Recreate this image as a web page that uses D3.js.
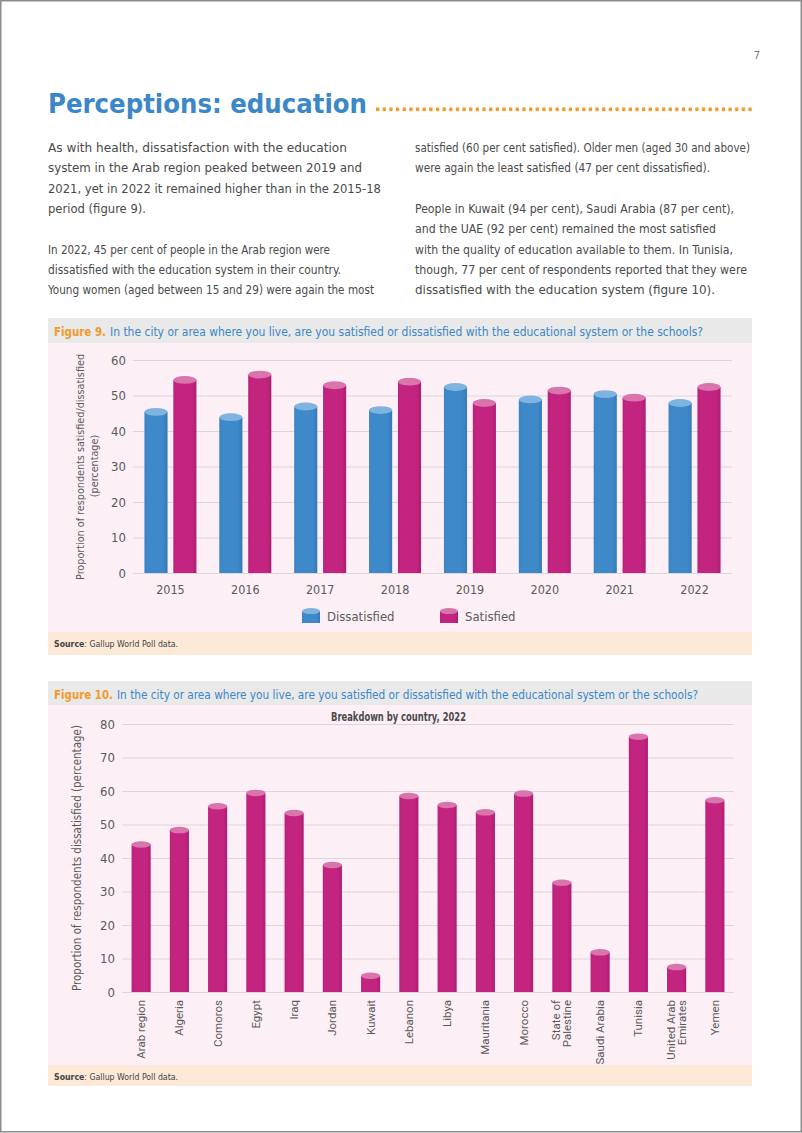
<!DOCTYPE html>
<html><head><meta charset="utf-8">
<script src="https://cdn.jsdelivr.net/npm/d3@7"></script>
<style>
html,body{margin:0;padding:0;background:#fff;}
svg{display:block;}
.nar{font-family:"Liberation Sans Narrow","DejaVu Sans Condensed","Roboto Condensed",Roboto,sans-serif;}
</style></head>
<body>
<svg id="page" width="802" height="1133"></svg>
<script>
// ---------- DATA ----------
const years = ["2015","2016","2017","2018","2019","2020","2021","2022"];
const seriesNames = ["Dissatisfied","Satisfied"];
const dissatisfied = [46.5, 45, 48, 47, 53.5, 50, 51.5, 49];
const satisfied = [55.5, 57, 54, 55, 49, 52.5, 50.5, 53.5];
const yTicks9 = [0,10,20,30,40,50,60];

const countries = ["Arab region","Algeria","Comoros","Egypt","Iraq","Jordan","Kuwait","Lebanon","Libya","Mauritania","Morocco","State of Palestine","Saudi Arabia","Tunisia","United Arab Emirates","Yemen"];
const countryDissatisfied = [45, 49.3, 56.4, 60.4, 54.4, 38.9, 5.8, 59.5, 56.8, 54.6, 60.2, 33.6, 12.8, 77.2, 8.4, 58.2];
const yTicks10 = [0,10,20,30,40,50,60,70,80];

// ---------- TEXT (line, width) ----------
const paragraphs = [
 {x:48, row:0, lines:[
  ["As with health, dissatisfaction with the education", 299],
  ["system in the Arab region peaked between 2019 and", 314],
  ["2021, yet in 2022 it remained higher than in the 2015-18", 333],
  ["period (figure 9).", 98]]},
 {x:48, row:5, lines:[
  ["In 2022, 45 per cent of people in the Arab region were", 282],
  ["dissatisfied with the education system in their country.", 293],
  ["Young women (aged between 15 and 29) were again the most", 326]]},
 {x:415, row:0, lines:[
  ["satisfied (60 per cent satisfied). Older men (aged 30 and above)", 335],
  ["were again the least satisfied (47 per cent dissatisfied).", 295]]},
 {x:415, row:3, lines:[
  ["People in Kuwait (94 per cent), Saudi Arabia (87 per cent),", 319],
  ["and the UAE (92 per cent) remained the most satisfied", 301],
  ["with the quality of education available to them. In Tunisia,", 318],
  ["though, 77 per cent of respondents reported that they were", 332],
  ["dissatisfied with the education system (figure 10).", 300]]}
];

const svg = d3.select("#page");
const BLUE_T = "#3b87c7", ORANGE = "#f39a2c", TXT = "#4a4a4a", AX = "#5a5a5a";

// fit a group of text elements: one common font size so that none is naturally wider than its target, then pin lengths
function fitGroup(items, base){
  let ratio = 1;
  items.forEach(([sel,t])=>{
    sel.attr("font-size", base);
    const w = sel.node().getComputedTextLength();
    ratio = Math.min(ratio, t/w);
  });
  items.forEach(([sel,t])=>{
    sel.attr("font-size", base*ratio).attr("textLength", t).attr("lengthAdjust","spacingAndGlyphs");
  });
}
const fit = (sel, t, base) => fitGroup([[sel,t]], base);

// page border
svg.append("rect").attr("x",0.75).attr("y",0.75).attr("width",800.5).attr("height",1131)
  .attr("fill","none").attr("stroke","#8c8c8c").attr("stroke-width",1.5);

// page number
svg.append("text").attr("class","nar").attr("x",757).attr("y",59).attr("font-size",11)
  .attr("fill","#777").attr("text-anchor","middle").text("7");

// title
fit(svg.append("text").attr("class","nar").attr("x",48).attr("y",113)
  .attr("font-weight","bold").attr("fill",BLUE_T).text("Perceptions: education"), 319, 35);
svg.append("g").selectAll("rect").data(d3.range(376, 751, 6.65)).join("rect")
  .attr("x",d=>d).attr("y",107.5).attr("width",3.3).attr("height",3.6).attr("fill",ORANGE);

// body text
paragraphs.forEach(p=>{
  const y0 = 152, lh = 20.3;
  const items = p.lines.map((l,i)=>[
    svg.append("text").attr("class","nar").attr("x",p.x).attr("y",y0+(p.row+i)*lh).attr("fill",TXT).text(l[0]), l[1]]);
  fitGroup(items, 14.6);
});

// defs: gradients for cylinders
const defs = svg.append("defs");
function cylGrad(id, c1, c2, c3){
  const g = defs.append("linearGradient").attr("id",id).attr("x1","0%").attr("x2","100%");
  g.append("stop").attr("offset","0%").attr("stop-color",c1);
  g.append("stop").attr("offset","12%").attr("stop-color",c2);
  g.append("stop").attr("offset","80%").attr("stop-color",c2);
  g.append("stop").attr("offset","100%").attr("stop-color",c3);
}
cylGrad("gBlue","#3a82c2","#3e89ca","#3479b6");
cylGrad("gPink","#b9217a","#c2247f","#ad1e72");
const colors = {Dissatisfied:{body:"url(#gBlue)", top:"#7fb4e0"}, Satisfied:{body:"url(#gPink)", top:"#da74ad"}};

function cylinder(g, x, w, yTop, yBase, col){
  const ry = w*0.17;
  g.append("rect").attr("x",x).attr("y",yTop+ry).attr("width",w).attr("height",Math.max(0,yBase-yTop-ry)).attr("fill",col.body);
  g.append("ellipse").attr("cx",x+w/2).attr("cy",yTop+ry).attr("rx",w/2).attr("ry",ry).attr("fill",col.top);
}

function panel(yHead, yChart, ySrc, yEnd, figNum, figEnd, qStart, qEnd){
  svg.append("rect").attr("x",48).attr("y",yHead).attr("width",704).attr("height",yChart-yHead).attr("fill","#e9e9e9");
  svg.append("rect").attr("x",48).attr("y",yChart).attr("width",704).attr("height",ySrc-yChart).attr("fill","#fcf0f6");
  svg.append("rect").attr("x",48).attr("y",ySrc).attr("width",704).attr("height",yEnd-ySrc).attr("fill","#fde9d7");
  fitGroup([
    [svg.append("text").attr("class","nar").attr("x",54).attr("y",yHead+17.5)
      .attr("fill",ORANGE).attr("font-weight","bold").text("Figure "+figNum+"."), figEnd-54],
    [svg.append("text").attr("class","nar").attr("x",qStart).attr("y",yHead+17.5)
      .attr("fill",BLUE_T).text("In the city or area where you live, are you satisfied or dissatisfied with the educational system or the schools?"), qEnd-qStart]
  ], 14);
  const s = svg.append("text").attr("class","nar").attr("x",54).attr("y",ySrc+15).attr("fill","#444");
  s.append("tspan").attr("font-weight","bold").text("Source");
  s.append("tspan").text(": Gallup World Poll data.");
  fit(s, 124, 10.5);
}

// ---------- FIGURE 9 ----------
panel(318, 343, 632, 655, 9, 106, 110, 703);
{
  const g = svg.append("g");
  const x0 = d3.scaleBand().domain(years).range([133, 732]);
  const x1 = d3.scaleBand().domain(seriesNames).range([x0.bandwidth()/2-26, x0.bandwidth()/2+26]).paddingInner(0.2);
  const y = d3.scaleLinear().domain([0,60]).range([573, 360]);
  const ax = g.append("g").attr("class","nar").attr("transform","translate(133,0)")
    .call(d3.axisLeft(y).tickValues(yTicks9).tickSize(-(732-133)).tickPadding(7));
  ax.select(".domain").remove();
  ax.selectAll("line").attr("stroke","#dcd6da").attr("stroke-width",1);
  ax.selectAll("text").attr("font-size",13).attr("fill",AX).attr("font-family",null);
  const bx = g.append("g").attr("class","nar").attr("transform","translate(0,573)")
    .call(d3.axisBottom(x0).tickSize(0).tickPadding(12));
  bx.select(".domain").remove();
  bx.selectAll("text").attr("font-size",12.5).attr("fill",AX).attr("font-family",null);
  const vals = {Dissatisfied:dissatisfied, Satisfied:satisfied};
  years.forEach((yr,i)=>{
    seriesNames.forEach(s=>{
      cylinder(g, x0(yr)+x1(s), x1.bandwidth(), y(vals[s][i]), y(0), colors[s]);
    });
  });
  const l1 = g.append("text").attr("class","nar").attr("transform","translate(84,467) rotate(-90)")
    .attr("text-anchor","middle").attr("fill",AX).text("Proportion of respondents satisfied/dissatisfied");
  fit(l1, 226, 13);
  g.append("text").attr("class","nar").attr("transform","translate(98,466) rotate(-90)")
    .attr("text-anchor","middle").attr("fill",AX).attr("font-size", l1.attr("font-size")).text("(percentage)");
  // legend
  const leg = [{s:"Dissatisfied", x:302},{s:"Satisfied", x:440}];
  leg.forEach(l=>{
    cylinder(g, l.x, 18, 608, 623, colors[l.s]);
    g.append("text").attr("class","nar").attr("x",l.x+25).attr("y",620.5).attr("font-size",13).attr("fill",AX).text(l.s);
  });
}

// ---------- FIGURE 10 ----------
panel(681, 705, 1065, 1086, 10, 113, 117, 698);
{
  const g = svg.append("g");
  const x = d3.scaleBand().domain(countries).range([122, 734]).paddingInner(0.5).paddingOuter(0.25);
  const y = d3.scaleLinear().domain([0,80]).range([992, 724]);
  const ax = g.append("g").attr("class","nar").attr("transform","translate(122,0)")
    .call(d3.axisLeft(y).tickValues(yTicks10).tickSize(-(734-122)).tickPadding(7));
  ax.select(".domain").remove();
  ax.selectAll("line").attr("stroke","#dcd6da").attr("stroke-width",1);
  ax.selectAll("text").attr("font-size",13).attr("fill",AX).attr("font-family",null);
  countries.forEach((c,i)=>{
    cylinder(g, x(c), x.bandwidth(), y(countryDissatisfied[i]), y(0), colors.Satisfied);
  });
  g.append("text").attr("class","nar").attr("x",331).attr("y",721)
    .attr("font-size",12.5).attr("font-weight","bold").attr("fill","#4a4a4a")
    .attr("textLength",135).attr("lengthAdjust","spacingAndGlyphs").text("Breakdown by country, 2022");
  const lbl = g.append("g").selectAll("text").data(countries).join("text")
    .attr("transform",d=>`translate(${x(d)+x.bandwidth()/2},1000) rotate(-90)`)
    .attr("text-anchor","end").attr("font-family","Roboto, 'DejaVu Sans', sans-serif")
    .attr("font-size",11.5).attr("fill",AX);
  lbl.each(function(d){
    const w = d.split(" ");
    const lines = w.length >= 3 ? [w.slice(0,2).join(" "), w.slice(2).join(" ")] : [d];
    const lh = 11;
    d3.select(this).selectAll("tspan").data(lines).join("tspan")
      .attr("x",0).attr("y",(l,j)=> (j - (lines.length-1)/2)*lh).attr("dy","0.35em").text(l=>l);
  });
  fit(g.append("text").attr("class","nar").attr("transform","translate(81,858) rotate(-90)")
    .attr("text-anchor","middle").attr("fill",AX)
    .text("Proportion of respondents dissatisfied (percentage)"), 266, 13);
}
</script>
</body></html>
